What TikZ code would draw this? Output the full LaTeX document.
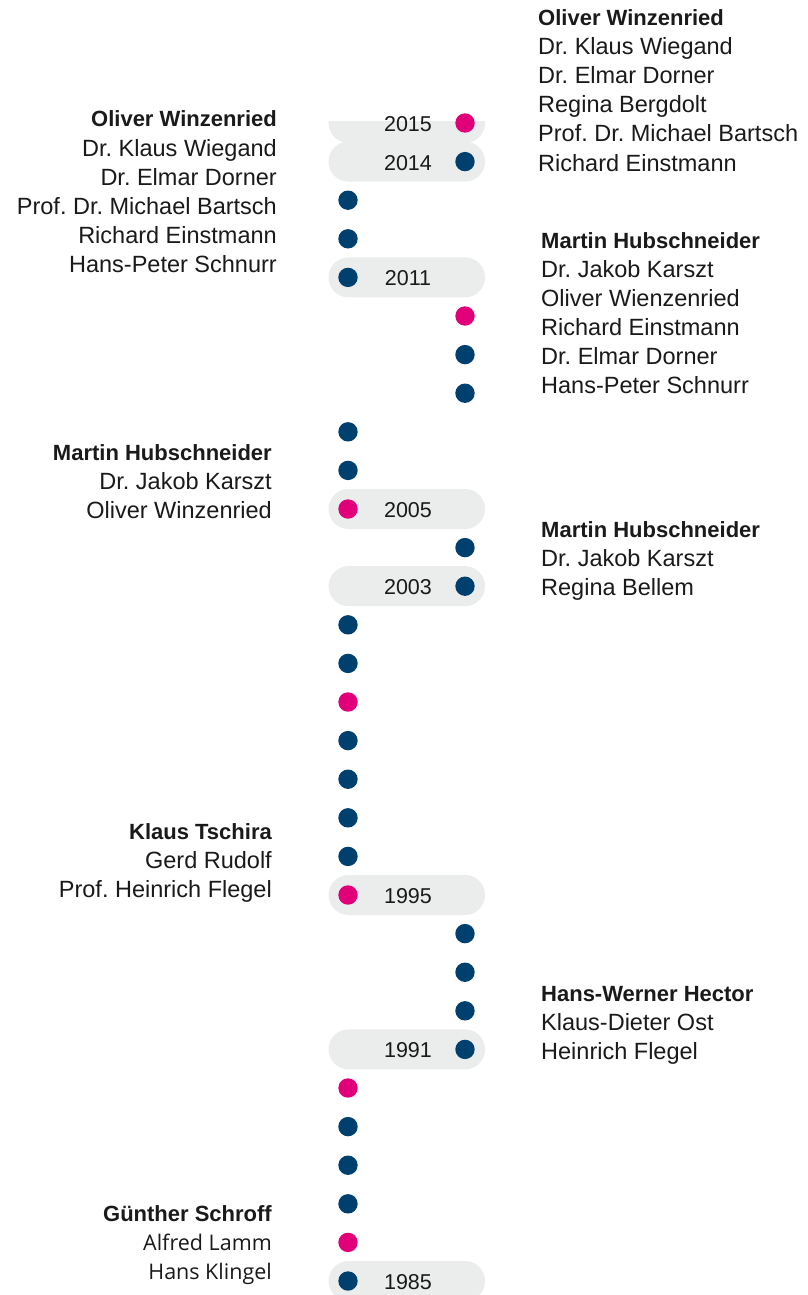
\documentclass[tikz,border=0pt]{standalone}
\usepackage{fontspec}
\setmainfont{Liberation Sans}
\newfontfamily\osans{Open Sans}
\frenchspacing
\definecolor{dotpink}{HTML}{E2007A}
\definecolor{dotblue}{HTML}{00406F}
\definecolor{pillgray}{HTML}{EBECEC}
\definecolor{txt}{HTML}{1A1A1A}
\newcommand{\bfname}[1]{{\fontsize{22}{29}\selectfont\bfseries #1}}
\tikzset{
  pill/.style={fill=pillgray, rounded corners=20pt, minimum width=156.5pt, minimum height=40pt, inner sep=0pt, draw=none},
  dotnode/.style={circle, inner sep=0pt, minimum size=19.4pt},
  yeartxt/.style={font=\fontsize{21.5}{21.5}\selectfont, text=txt, inner sep=0pt, anchor=base},
  nameL/.style={font=\fontsize{23.5}{29}\selectfont, text=txt, inner sep=0pt, anchor=base east},
  nameR/.style={font=\fontsize{23.5}{29}\selectfont, text=txt, inner sep=0pt, anchor=base west},
}
\begin{document}
\begin{tikzpicture}[x=1pt,y=-1pt]
\useasboundingbox (0,0) rectangle (808,1295);
\fill[white] (0,0) rectangle (808,1295);
% pills
\begin{scope}
  \clip (0,122) rectangle (808,1295);
  \node[pill] (p2015) at (406.8,123) {};
\end{scope}
\foreach \yr in {2014,2011,2005,2003,1995,1991,1985}{
  \node[pill] (p\yr) at (406.8,{1281-38.6*(\yr-1985)}) {};
  \node[yeartxt] (y\yr) at (408,{1281-38.6*(\yr-1985)+8.5}) {\yr};
}
\node[yeartxt] (y2015) at (408,{123+8.5}) {2015};
% dots
\foreach \yr/\xx/\cc in {
  1985/348/dotblue, 1986/348/dotpink, 1987/348/dotblue, 1988/348/dotblue,
  1989/348/dotblue, 1990/348/dotpink, 1991/465/dotblue, 1992/465/dotblue,
  1993/465/dotblue, 1994/465/dotblue, 1995/348/dotpink, 1996/348/dotblue,
  1997/348/dotblue, 1998/348/dotblue, 1999/348/dotblue, 2000/348/dotpink,
  2001/348/dotblue, 2002/348/dotblue, 2003/465/dotblue, 2004/465/dotblue,
  2005/348/dotpink, 2006/348/dotblue, 2007/348/dotblue, 2008/465/dotblue,
  2009/465/dotblue, 2010/465/dotpink, 2011/348/dotblue, 2012/348/dotblue,
  2013/348/dotblue, 2014/465/dotblue, 2015/465/dotpink}{
  \node[dotnode, fill=\cc] (d\yr) at (\xx,{1281-38.6*(\yr-1985)}) {};
}
% name blocks
\foreach \t [count=\i] in {{\bfname{Oliver Winzenried}}, Dr. Klaus Wiegand, Dr. Elmar Dorner, Regina Bergdolt, Prof. Dr. Michael Bartsch, Richard Einstmann}
  \node[nameR] (ta\i) at (538,{26+29*(\i-1)}) {\t};
\foreach \t [count=\i] in {{\bfname{Oliver Winzenried}}, Dr. Klaus Wiegand, Dr. Elmar Dorner, Prof. Dr. Michael Bartsch, Richard Einstmann, Hans-Peter Schnurr}
  \node[nameL] (tb\i) at (277,{127+29*(\i-1)}) {\t};
\foreach \t [count=\i] in {{\bfname{Martin Hubschneider}}, Dr. Jakob Karszt, Oliver Wienzenried, Richard Einstmann, Dr. Elmar Dorner, Hans-Peter Schnurr}
  \node[nameR] (tc\i) at (541,{248+29*(\i-1)}) {\t};
\foreach \t [count=\i] in {{\bfname{Martin Hubschneider}}, Dr. Jakob Karszt, Oliver Winzenried}
  \node[nameL] (td\i) at (272,{460+29*(\i-1)}) {\t};
\foreach \t [count=\i] in {{\bfname{Martin Hubschneider}}, Dr. Jakob Karszt, Regina Bellem}
  \node[nameR] (te\i) at (541,{537+29*(\i-1)}) {\t};
\foreach \t [count=\i] in {{\bfname{Klaus Tschira}}, Gerd Rudolf, Prof. Heinrich Flegel}
  \node[nameL] (tf\i) at (272,{839+29*(\i-1)}) {\t};
\foreach \t [count=\i] in {{\bfname{Hans-Werner Hector}}, Klaus-Dieter Ost, Heinrich Flegel}
  \node[nameR] (tg\i) at (541,{1001+29*(\i-1)}) {\t};
\node[nameL] (th1) at (272,1221) {\bfname{Günther Schroff}};
\node[nameL, font=\osans\fontsize{21.5}{29}\selectfont] (th2) at (272,1250) {Alfred Lamm};
\node[nameL, font=\osans\fontsize{21.5}{29}\selectfont] (th3) at (272,1279) {Hans Klingel};
\end{tikzpicture}
\end{document}
